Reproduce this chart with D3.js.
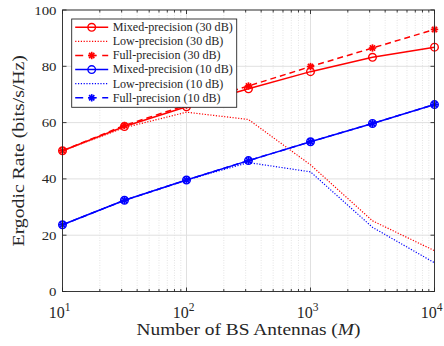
<!DOCTYPE html>
<html>
<head>
<meta charset="utf-8">
<script src="https://cdn.jsdelivr.net/npm/d3@7"></script>
<style>
  body { margin: 0; background: #fff; }
  text { font-family: "Liberation Serif", "DejaVu Serif", serif; fill: #262626; }
</style>
</head>
<body>
<script>
// antenna counts (x axis, log scale)
var antennas = [10, 31.6, 100, 316, 1000, 3162, 10000];

var mixed30 = [50, 58.6, 65.6, 72, 78.1, 83.2, 86.8];
var low30   = [50, 58.2, 63.7, 61.1, 45, 25.1, 14.5];
var full30  = [50, 59, 66.2, 73, 79.9, 86.5, 93.1];
var mixed10 = [23.7, 32.4, 39.6, 46.5, 53.2, 59.7, 66.4];
var low10   = [23.7, 32.4, 39.6, 45.8, 42.5, 22.8, 10.2];
var full10  = [23.7, 32.4, 39.6, 46.5, 53.2, 59.7, 66.4];

var yTicks = [0, 20, 40, 60, 80, 100];
var xTicks = [10, 100, 1000, 10000];

var DOT = "1.2,1.6", DASH = "6,4";
var series = [
  {name: "Mixed-precision (30 dB)", vals: mixed30, color: "#ff0000", dash: null, marker: "circle"},
  {name: "Low-precision (30 dB)", vals: low30, color: "#ff0000", dash: DOT, marker: null},
  {name: "Full-precision (30 dB)", vals: full30, color: "#ff0000", dash: DASH, marker: "star"},
  {name: "Mixed-precision (10 dB)", vals: mixed10, color: "#0000ff", dash: null, marker: "circle"},
  {name: "Low-precision (10 dB)", vals: low10, color: "#0000ff", dash: DOT, marker: null},
  {name: "Full-precision (10 dB)", vals: full10, color: "#0000ff", dash: DASH, marker: "star"}
];

var margin = {top: 10, left: 62.5},
    width = 372,
    height = 281.5;

var svg = d3.select("body").append("svg")
    .attr("width", 444).attr("height", 346)
    .append("g")
    .attr("transform", "translate(" + margin.left + "," + margin.top + ")");

var x = d3.scaleLog().domain([10, 10000]).range([0, width]);
var y = d3.scaleLinear().domain([0, 100]).range([height, 0]);

// widen Times-like glyphs a bit so they take the room of the TeX font
function stretch(sel, k) {
  sel.each(function(){
    var w = this.getComputedTextLength();
    d3.select(this).attr("textLength", w * k).attr("lengthAdjust", "spacingAndGlyphs");
  });
}

// minor x grid (dotted)
var minor = [];
[10, 100, 1000].forEach(function(d){
  for (var k = 2; k <= 9; k++) minor.push(d * k);
});
svg.append("g").selectAll("line").data(minor).enter().append("line")
  .attr("x1", function(d){ return x(d); }).attr("x2", function(d){ return x(d); })
  .attr("y1", 0).attr("y2", height)
  .attr("stroke", "#d8d8d8").attr("stroke-width", 0.7).attr("stroke-dasharray", "1,1.5");

// major grid
svg.append("g").selectAll("line").data(xTicks).enter().append("line")
  .attr("x1", function(d){ return x(d); }).attr("x2", function(d){ return x(d); })
  .attr("y1", 0).attr("y2", height)
  .attr("stroke", "#e0e0e0").attr("stroke-width", 1);
svg.append("g").selectAll("line").data(yTicks).enter().append("line")
  .attr("x1", 0).attr("x2", width)
  .attr("y1", function(d){ return y(d); }).attr("y2", function(d){ return y(d); })
  .attr("stroke", "#e0e0e0").attr("stroke-width", 1);

var line = d3.line()
  .x(function(d, i){ return x(antennas[i]); })
  .y(function(d){ return y(d); });

function drawMarker(g, type, color) {
  if (type === "circle") {
    g.append("circle").attr("r", 3.8).attr("fill", "none")
      .attr("stroke", color).attr("stroke-width", 1.4);
  } else if (type === "star") {
    var r = 3.7;
    [0, 45, 90, 135].forEach(function(a){
      var rad = a * Math.PI / 180;
      g.append("line")
        .attr("x1", -r * Math.sin(rad)).attr("y1", -r * Math.cos(rad))
        .attr("x2", r * Math.sin(rad)).attr("y2", r * Math.cos(rad))
        .attr("stroke", color).attr("stroke-width", 1.7);
    });
  }
}

series.forEach(function(s){
  svg.append("path").datum(s.vals)
    .attr("fill", "none").attr("stroke", s.color)
    .attr("stroke-width", s.dash === DOT ? 1.2 : 1.5)
    .attr("stroke-dasharray", s.dash)
    .attr("d", line);
  if (s.marker) {
    s.vals.forEach(function(v, i){
      var g = svg.append("g").attr("transform", "translate(" + x(antennas[i]) + "," + y(v) + ")");
      drawMarker(g, s.marker, s.color);
    });
  }
});

// axes box
svg.append("rect").attr("width", width).attr("height", height)
  .attr("fill", "none").attr("stroke", "#262626").attr("stroke-width", 0.9);

// y ticks
[0, width].forEach(function(x0){
  svg.append("g").selectAll("line").data(yTicks).enter().append("line")
    .attr("x1", x0).attr("x2", x0 === 0 ? 4 : width - 4)
    .attr("y1", function(d){ return y(d); }).attr("y2", function(d){ return y(d); })
    .attr("stroke", "#262626").attr("stroke-width", 0.9);
});
svg.append("g").selectAll("text").data(yTicks).enter().append("text")
  .attr("x", -6).attr("y", function(d){ return y(d) + 4.5; })
  .attr("text-anchor", "end").attr("font-size", 13.5)
  .text(function(d){ return d; })
  .call(stretch, 1.1);

// x ticks (major + minor, top and bottom)
var xt = minor.concat(xTicks);
[0, height].forEach(function(y0){
  svg.append("g").selectAll("line").data(xt).enter().append("line")
    .attr("x1", function(d){ return x(d); }).attr("x2", function(d){ return x(d); })
    .attr("y1", y0)
    .attr("y2", function(d){
      var l = xTicks.indexOf(d) >= 0 ? 4 : 2.5;
      return y0 === 0 ? l : height - l;
    })
    .attr("stroke", "#262626").attr("stroke-width", 0.9);
});
var xl = svg.append("g").selectAll("text").data(xTicks).enter().append("text")
  .attr("x", function(d){ return x(d) - 3; }).attr("y", height + 26.5)
  .attr("text-anchor", "middle").attr("font-size", 16);
xl.append("tspan").text("10");
xl.append("tspan").attr("dy", -7).attr("font-size", 11.5)
  .text(function(d){ return Math.round(Math.log10(d)); });

// axis labels
svg.append("text").attr("x", width / 2).attr("y", height + 43.5)
  .attr("text-anchor", "middle").attr("font-size", 17)
  .html('Number of BS Antennas (<tspan font-style="italic">M</tspan>)')
  .call(stretch, 1.14);
svg.append("text")
  .attr("transform", "translate(-38.5," + (height / 2) + ") rotate(-90)")
  .attr("text-anchor", "middle").attr("font-size", 17)
  .text("Ergodic Rate (bits/s/Hz)")
  .call(stretch, 1.16);

// legend
var lg = svg.append("g").attr("transform", "translate(9.2,9)");
lg.append("rect").attr("width", 165).attr("height", 88.3)
  .attr("fill", "#fff").attr("stroke", "#262626").attr("stroke-width", 0.9);
var labels = [];
series.forEach(function(s, i){
  var row = lg.append("g").attr("transform", "translate(0," + (8.3 + i * 14.1) + ")");
  row.append("line").attr("x1", 3.5).attr("x2", 36.5).attr("y1", 0).attr("y2", 0)
    .attr("stroke", s.color).attr("stroke-width", s.dash === DOT ? 1.2 : 1.5)
    .attr("stroke-dasharray", s.dash === DASH ? "8,5.5" : s.dash);
  if (s.marker) {
    var m = row.append("g").attr("transform", "translate(20,0)");
    drawMarker(m, s.marker, s.color);
  }
  labels.push(row.append("text").attr("x", 41).attr("y", 3.8).attr("font-size", 12)
    .text(s.name));
});
// longest label should just fill the box (about 120 px in the original)
var kLeg = 120 / labels[0].node().getComputedTextLength();
labels.forEach(function(t){ t.call(stretch, kLeg); });
</script>
</body>
</html>
